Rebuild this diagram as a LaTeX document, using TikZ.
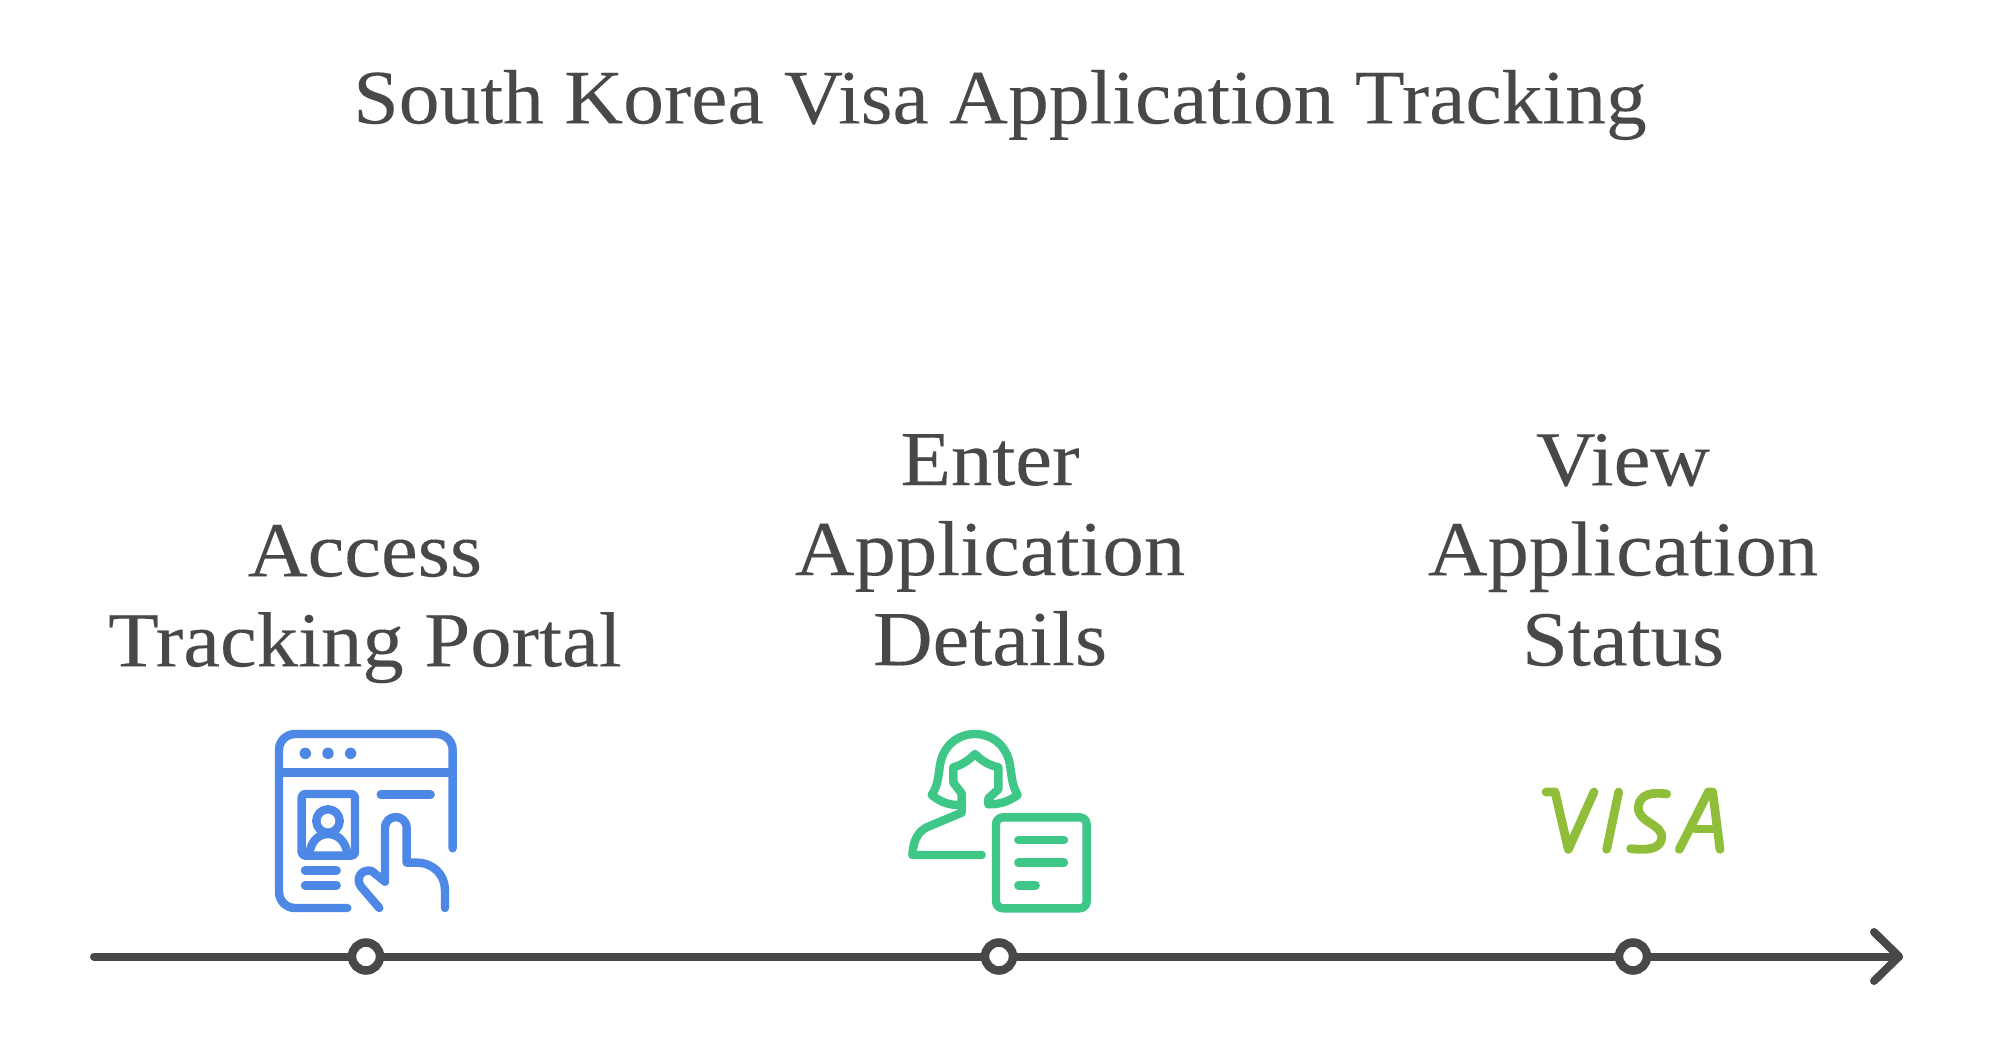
\documentclass[tikz,border=0pt]{standalone}
\usepackage{fontspec}
\setmainfont{Liberation Serif}[FakeStretch=1.06,FakeBold=0.12]
\definecolor{ink}{HTML}{484848}
\definecolor{iconblue}{HTML}{4E88E7}
\definecolor{icongreen}{HTML}{3EC787}
\definecolor{iconlime}{HTML}{8FBF3A}
\tikzset{
  title/.style={text=ink,font=\fontsize{77}{90}\selectfont,align=center,inner sep=0pt},
  label/.style={text=ink,font=\fontsize{78}{90}\selectfont,align=center,inner sep=0pt},
  axisline/.style={draw=ink,line width=8pt,line cap=round,line join=round},
  stopmark/.style={circle,draw=ink,fill=white,line width=8.5pt,minimum size=28pt,inner sep=0pt},
  glyph/.style={line width=8.4pt,line cap=round,line join=round},
}
\begin{document}
\begin{tikzpicture}[x=1pt,y=-1pt]
\useasboundingbox (0,0) rectangle (1999,1046);
\node[title] (t) at (1000,105) {South Korea Visa Application Tracking};
\node[label] (a) at (365,604) {Access\\Tracking Portal};
\node[label] (b) at (990,550) {Enter\\Application\\Details};
\node[label] (c) at (1623,550) {View\\Application\\Status};
\coordinate (start) at (94,956.5);
\coordinate (tip) at (1899,956.5);
\coordinate (armA) at (1874,932);
\coordinate (armB) at (1874,981);
\draw[axisline] (start) -- (tip);
\draw[axisline] (armA) -- (tip) -- (armB);
\node[stopmark] (s1) at (366,956.5) {};
\node[stopmark] (s2) at (999,956.5) {};
\node[stopmark] (s3) at (1633,956.5) {};
% blue icon
\begin{scope}[shift={(260,710)},x=0.3333pt,y=-0.3333pt,glyph,draw=iconblue]
\draw (262,594) -- (105,594) arc[start angle=90,end angle=180,radius=48] -- (57,120) arc[start angle=180,end angle=270,radius=48] -- (530,72) arc[start angle=270,end angle=360,radius=48] -- (578,415);
\draw (57,187) -- (578,187);
\fill[iconblue] (136,130) circle[radius=5.7pt] (204,130) circle[radius=5.7pt] (272,130) circle[radius=5.7pt];
\draw[rounded corners=3.5pt] (125,252) rectangle (285,437);
\draw (204,333) circle[radius=11.7pt];
\draw (148,432) .. controls (152,395) and (175,372) .. (204,372) .. controls (233,372) and (258,395) .. (262,432);
\draw (362,254) -- (512,254);
\draw (135,481) -- (230,481);
\draw (135,526) -- (230,526);
\draw (358,594) -- (303,530) .. controls (285,505) and (305,475) .. (335,483) -- (375,515) -- (375,355) .. controls (375,310) and (440,310) .. (440,355) -- (440,458) -- (470,458) .. controls (520,458) and (555,495) .. (555,540) -- (555,594);
\end{scope}
% green icon
\begin{scope}[shift={(890,710)},x=0.3333pt,y=-0.3333pt,glyph,draw=icongreen]
\draw (205,285) .. controls (175,285) and (150,275) .. (125,255) .. controls (145,225) and (145,195) .. (150,165) .. controls (160,105) and (205,72) .. (255,72) .. controls (305,72) and (350,105) .. (360,165) .. controls (365,195) and (365,225) .. (383,255) .. controls (355,275) and (330,283) .. (295,283) -- (295,265) -- (325,238) -- (325,172) .. controls (295,165) and (275,152) .. (255,132) .. controls (235,152) and (215,165) .. (190,172) -- (190,218) -- (215,250) -- (215,308) -- (110,352) .. controls (80,368) and (70,395) .. (67,435) -- (275,435);
\draw[rounded corners=7pt] (318,322) rectangle (590,595);
\draw (385,390) -- (522,390);
\draw (385,458) -- (522,458);
\draw (385,526) -- (437,526);
\end{scope}
% VISA mark
\begin{scope}[shift={(1520,760)},x=0.3333pt,y=-0.3333pt,glyph,line width=8.8pt,draw=iconlime]
\draw (78,96) -- (105,96) -- (145,268) -- (222,96);
\draw (296,96) -- (260,268);
\draw (440,102) .. controls (400,96) and (360,100) .. (355,140) .. controls (352,190) and (430,190) .. (425,235) .. controls (420,272) and (370,270) .. (332,266);
\draw (478,268) -- (565,96) -- (578,96) -- (600,268);
\draw (525,207) -- (590,207);
\end{scope}
\end{tikzpicture}
\end{document}
